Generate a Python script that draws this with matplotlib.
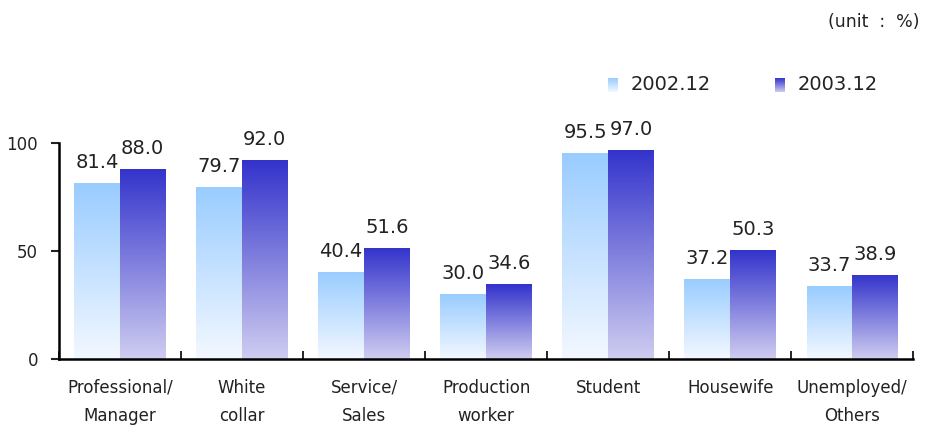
import numpy as np
import matplotlib.pyplot as plt
from matplotlib.colors import LinearSegmentedColormap

categories = ['Professional/\nManager', 'White\ncollar', 'Service/\nSales', 'Production\nworker',
              'Student', 'Housewife', 'Unemployed/\nOthers']
v2002 = [81.4, 79.7, 40.4, 30.0, 95.5, 37.2, 33.7]
v2003 = [88.0, 92.0, 51.6, 34.6, 97.0, 50.3, 38.9]
series = ['2002.12', '2003.12']

# gradients: bottom colour -> top colour
cmap_light = LinearSegmentedColormap.from_list('light', ['#F3F8FF', '#99CCFF'])
cmap_dark = LinearSegmentedColormap.from_list('dark', ['#CFCDF0', '#3333CC'])
grad = np.linspace(0, 1, 256).reshape(-1, 1)

fig = plt.figure(figsize=(9.33, 4.26), dpi=100)
ax = fig.add_axes([0.063, 0.157, 0.916, 0.507])

x = np.arange(len(categories))
w = 0.375

def gradient_bars(xs, vals, cmap):
    bars = ax.bar(xs, vals, w, color='none', edgecolor='none')
    for b in bars:
        x0, y0 = b.get_x(), b.get_y()
        h = b.get_height()
        im = ax.imshow(grad, cmap=cmap, origin='lower', aspect='auto',
                       extent=[x0, x0 + b.get_width(), y0, y0 + h], zorder=2)
        im.set_clip_path(b)
    for b, v in zip(bars, vals):
        ax.annotate(f'{v:.1f}', (b.get_x() + b.get_width() / 2, v), xytext=(0, 8),
                    textcoords='offset points', ha='center', va='bottom',
                    fontsize=14, color='#222222', annotation_clip=False)
    return bars

gradient_bars(x - w / 2, v2002, cmap_light)
gradient_bars(x + w / 2, v2003, cmap_dark)

ax.set_xlim(-0.5, len(categories) - 0.5)
ax.set_ylim(0, 100)
ax.set_yticks([0, 50, 100])
ax.tick_params(axis='y', direction='out', length=6, width=1.5, labelsize=12, pad=9, colors='#222222')

ax.set_xticks(np.arange(len(categories) + 1) - 0.5)
ax.set_xticklabels([])
ax.tick_params(axis='x', direction='in', length=6, width=1.2)
for i, c in enumerate(categories):
    ax.text(i, -9, c, ha='center', va='top', fontsize=12, linespacing=1.75,
            transform=ax.transData, clip_on=False, color='#222222')

for s in ['top', 'right']:
    ax.spines[s].set_visible(False)
ax.spines['left'].set_linewidth(1.8)
ax.spines['bottom'].set_linewidth(1.8)

# legend
for lx, cm, lab in [(0.652, cmap_light, series[0]), (0.831, cmap_dark, series[1])]:
    lax = fig.add_axes([lx, 1 - 92 / 426, 10 / 933, 14 / 426])
    lax.imshow(grad, cmap=cm, origin='lower', aspect='auto')
    lax.axis('off')
    fig.text(lx + 22 / 933, 1 - 85 / 426, lab, fontsize=14, va='center', ha='left', color='#222222')

fig.text(0.986, 1 - 22 / 426, '(unit  :  %)', fontsize=12.5, ha='right', va='center', color='#222222')

fig.savefig('out.png', dpi=100)
